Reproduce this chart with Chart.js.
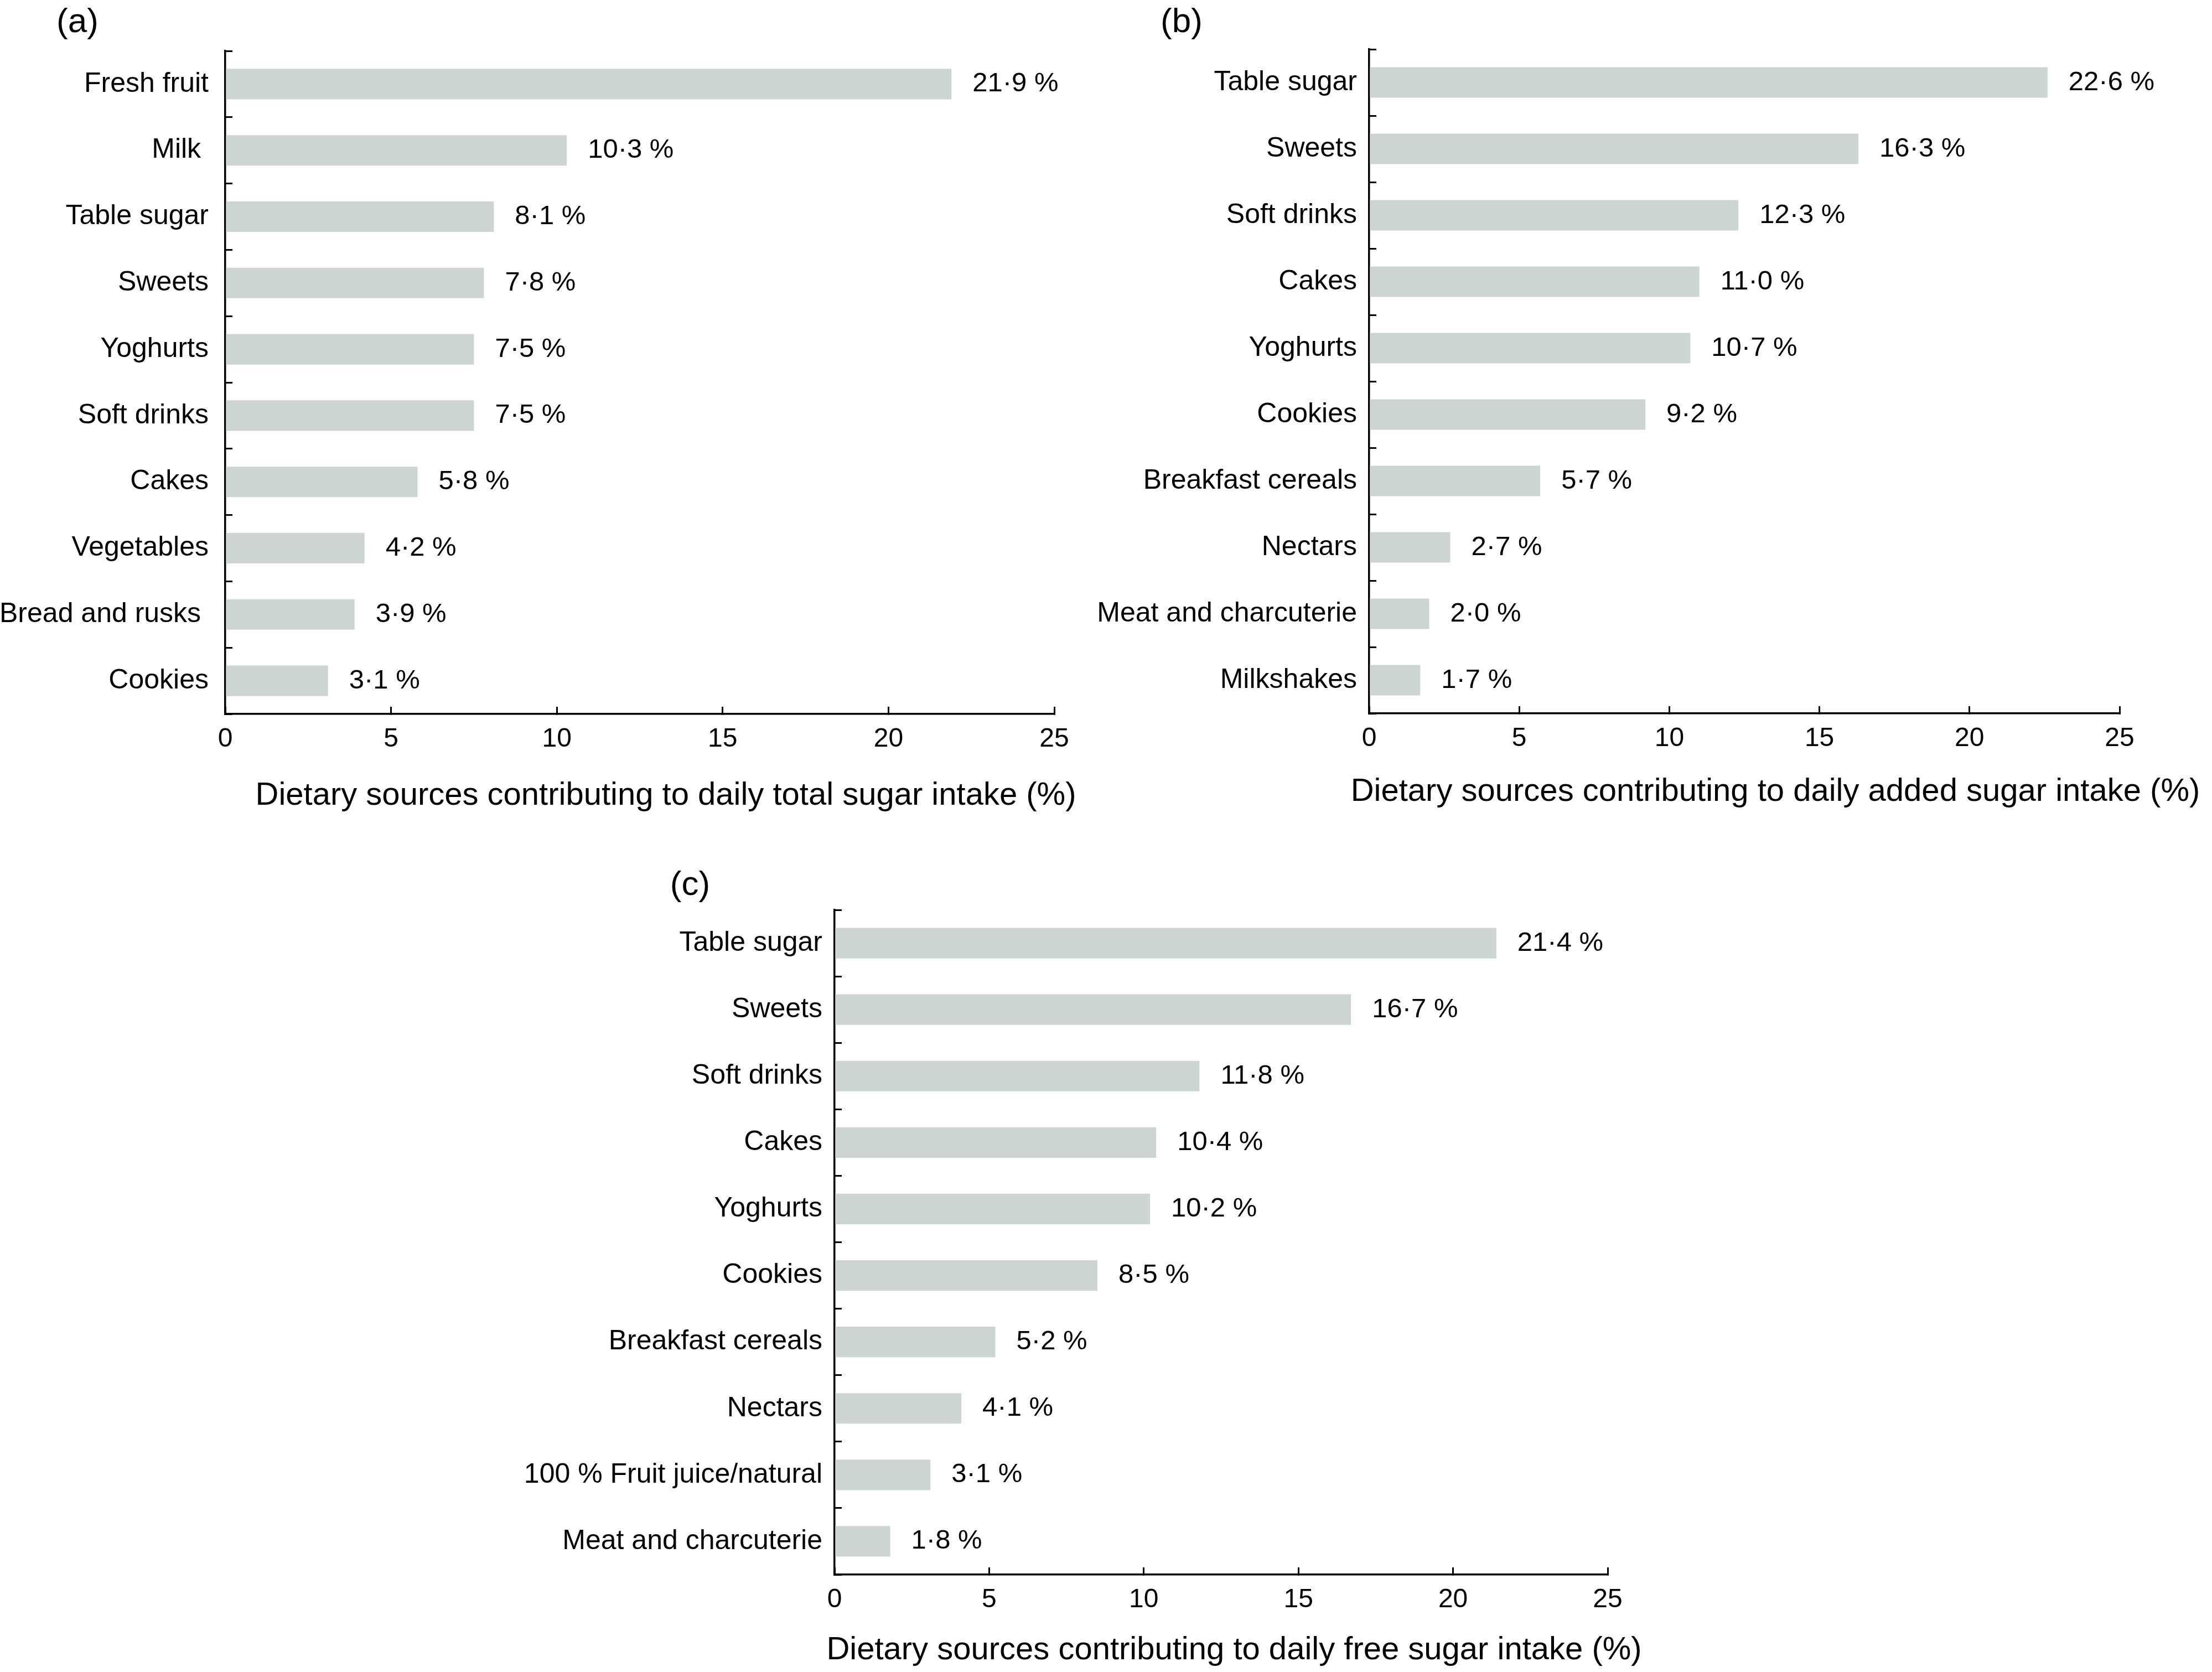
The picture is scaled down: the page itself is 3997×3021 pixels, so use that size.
<!DOCTYPE html>
<html>
<head>
<meta charset="utf-8">
<script src="https://cdn.jsdelivr.net/npm/chart.js@4.4.1/dist/chart.umd.min.js"></script>
<style>
  html, body { margin: 0; padding: 0; background: #fff; }
  #page { position: relative; width: 3997px; height: 3021px; background: #fff; overflow: hidden; }
  canvas { position: absolute; }
</style>
</head>
<body>
<div id="page">
  <canvas id="chartA" width="2000" height="1520" style="left:0;top:0"></canvas>
  <canvas id="chartB" width="2047" height="1520" style="left:1950px;top:0"></canvas>
  <canvas id="chartC" width="2400" height="1501" style="left:800px;top:1520px"></canvas>
</div>
<script>
// ---- data ----
const totalLabels = ["Fresh fruit", "Milk ", "Table sugar", "Sweets", "Yoghurts", "Soft drinks", "Cakes", "Vegetables", "Bread and rusks ", "Cookies"];
const totalValues = [21.9, 10.3, 8.1, 7.8, 7.5, 7.5, 5.8, 4.2, 3.9, 3.1];

const addedLabels = ["Table sugar", "Sweets", "Soft drinks", "Cakes", "Yoghurts", "Cookies", "Breakfast cereals", "Nectars", "Meat and charcuterie", "Milkshakes"];
const addedValues = [22.6, 16.3, 12.3, 11.0, 10.7, 9.2, 5.7, 2.7, 2.0, 1.7];

const freeLabels = ["Table sugar", "Sweets", "Soft drinks", "Cakes", "Yoghurts", "Cookies", "Breakfast cereals", "Nectars", "100 % Fruit juice/natural", "Meat and charcuterie"];
const freeValues = [21.4, 16.7, 11.8, 10.4, 10.2, 8.5, 5.2, 4.1, 3.1, 1.8];

const xMin = 0;
const xMax = 25;
const xStep = 5;

const FONT = '"Liberation Sans", Arial, Helvetica, sans-serif';
Chart.defaults.font.family = FONT;
Chart.defaults.color = "#000";

// panel letter + axis title
const panelText = {
  id: "panelText",
  afterDraw(chart, args, opts) {
    const ctx = chart.ctx;
    ctx.save();
    ctx.fillStyle = "#000";
    ctx.textAlign = "center";
    ctx.textBaseline = "alphabetic";
    ctx.font = "62px " + FONT;
    ctx.fillText(opts.letter, opts.letterX, opts.letterY);
    ctx.font = "58px " + FONT;
    ctx.fillText(opts.title, opts.titleX, opts.titleY);
    ctx.restore();
  },
};

// "21·9 %" next to each bar
const barValues = {
  id: "barValues",
  afterDatasetsDraw(chart) {
    const ctx = chart.ctx;
    const meta = chart.getDatasetMeta(0);
    const data = chart.data.datasets[0].data;
    ctx.save();
    ctx.fillStyle = "#000";
    ctx.font = "49px " + FONT;
    ctx.textAlign = "left";
    ctx.textBaseline = "middle";
    meta.data.forEach(function (bar, i) {
      ctx.fillText(data[i].toFixed(1).replace(".", "·") + " %", bar.x + 38, bar.y);
    });
    ctx.restore();
  },
};

function drawPanel(id, labels, values, p) {
  const axisGrid = { drawOnChartArea: false, tickLength: -13, lineWidth: 3, color: "#000" };
  const axisBorder = { display: true, color: "#000", width: 3.5 };

  new Chart(document.getElementById(id), {
    type: "bar",
    data: {
      labels: labels,
      datasets: [
        {
          data: values,
          backgroundColor: "#cdd5d3",
          borderWidth: 0,
          barPercentage: 0.46,
          categoryPercentage: 1,
        },
      ],
    },
    plugins: [panelText, barValues],
    options: {
      indexAxis: "y",
      responsive: false,
      animation: false,
      devicePixelRatio: 1,
      layout: { padding: { left: 0, top: p.top, right: p.right, bottom: p.bottom } },
      scales: {
        x: {
          min: xMin,
          max: xMax,
          ticks: { stepSize: xStep, padding: 30, font: { size: 48 }, color: "#000" },
          grid: axisGrid,
          border: axisBorder,
          afterFit(scale) {
            scale.height = 150;
          },
        },
        y: {
          ticks: { padding: p.labelPad, font: { size: 50 }, color: "#000", autoSkip: false },
          grid: Object.assign({ offset: true }, axisGrid),
          border: axisBorder,
          afterFit(scale) {
            scale.width = p.left;
          },
        },
      },
      plugins: {
        legend: { display: false },
        tooltip: { enabled: false },
        panelText: p.text,
      },
    },
  });
}

drawPanel("chartA", totalLabels, totalValues, {
  left: 407, top: 92, right: 95, bottom: 80, labelPad: 43,
  text: {
    letter: "(a)", letterX: 140, letterY: 58,
    title: "Dietary sources contributing to daily total sugar intake (%)", titleX: 1203, titleY: 1454,
  },
});
// ------------------------------------------ (a) --------------------------------------------

drawPanel("chartB", addedLabels, addedValues, {
  left: 524, top: 89, right: 167, bottom: 81, labelPad: 35,
  text: {
    letter: "(b)", letterX: 185, letterY: 58,
    title: "Dietary sources contributing to daily added sugar intake (%)", titleX: 1258, titleY: 1447,
  },
});
// ------------------------------------------ (b) --------------------------------------------

drawPanel("chartC", freeLabels, freeValues, {
  left: 708, top: 124, right: 295, bottom: 26, labelPad: 35,
  text: {
    letter: "(c)", letterX: 447, letterY: 97,
    title: "Dietary sources contributing to daily free sugar intake (%)", titleX: 1430, titleY: 1478,
  },
});
// ------------------------------------------ (c) --------------------------------------------
</script>
</body>
</html>
